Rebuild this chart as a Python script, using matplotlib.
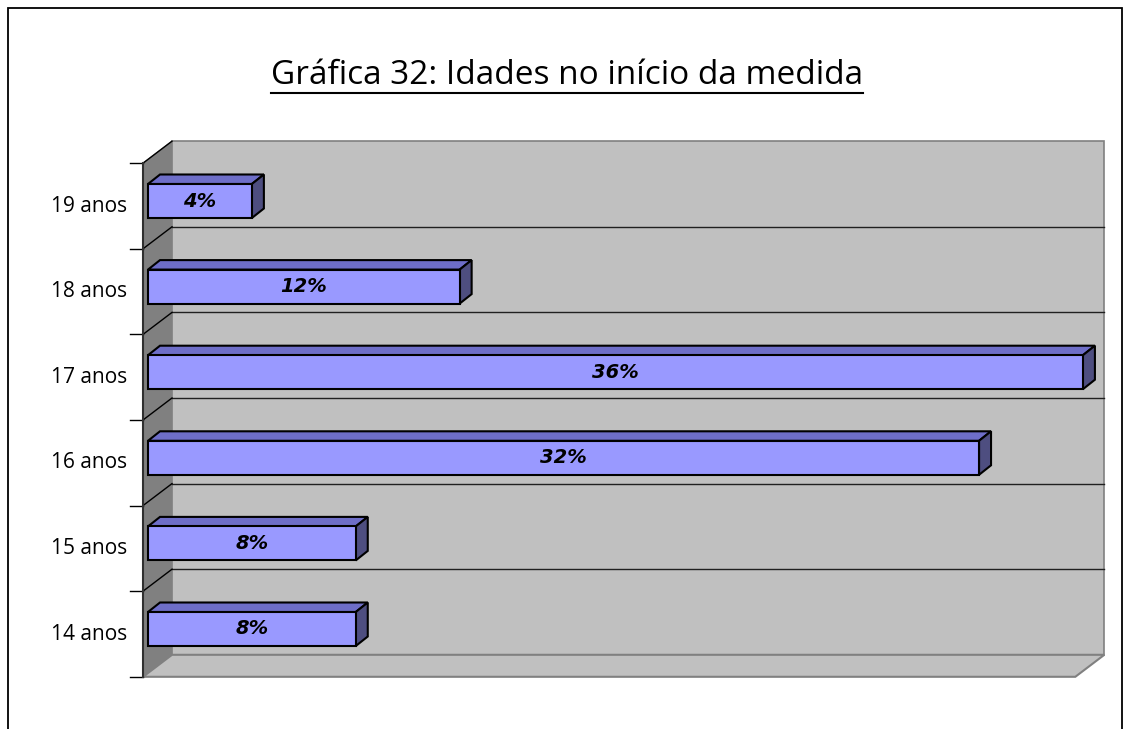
import matplotlib.pyplot as plt
from matplotlib.patches import Polygon, Rectangle
from matplotlib.lines import Line2D

# data
categories = ['14 anos', '15 anos', '16 anos', '17 anos', '18 anos', '19 anos']
values = [8, 8, 32, 36, 12, 4]
title = 'Gráfica 32: Idades no início da medida'

W, H = 1125, 729
fig = plt.figure(figsize=(W / 100, H / 100), dpi=100)
ax = fig.add_axes([0, 0, 1, 1])

# scales: x in percent, y in category index (pixel sizes only used for the 3d look)
PX = 25.97   # px per percent
PY = 85.6    # px per category
X0 = 143     # pixel of value 0 on the front plane
Y0 = 634     # pixel (from top) of first category on the front plane
ax.set_xlim(-X0 / PX, (W - X0) / PX)
ax.set_ylim((Y0 - H) / PY, Y0 / PY)
ax.axis('off')


def dx(p):
    return p / PX


def dy(p):
    return p / PY


n = len(categories)
xmax = 35.9
lo, hi = -0.5, n - 0.5
DX, DY = dx(29), dy(22)          # floor / wall depth
BX, BY = dx(5), dy(5)            # bar position inside the depth
TX, TY = dx(12), dy(9.5)         # bar thickness in depth
bh = dy(17)                      # half height of a bar

# side wall
ax.add_patch(Polygon([(0, lo), (DX, lo + DY), (DX, hi + DY), (0, hi)],
                     closed=True, fc='#808080', ec='#808080', lw=1, zorder=1))
# back wall
ax.add_patch(Rectangle((DX, lo + DY), xmax, hi - lo, fc='#C0C0C0',
                       ec='#808080', lw=1.2, zorder=1))
# floor
ax.add_patch(Polygon([(0, lo), (DX, lo + DY), (xmax + DX, lo + DY), (xmax, lo)],
                     closed=True, fc='#C0C0C0', ec='#808080', lw=1.5, zorder=1))

# gridlines on back wall and side wall, ticks on front axis
for k in range(n + 1):
    yb = lo + k
    if 0 < k < n:
        ax.plot([DX, DX + xmax], [yb + DY, yb + DY], color='#202020', lw=1, zorder=2)
    if k > 0:
        ax.plot([0, DX], [yb, yb + DY], color='black', lw=1, zorder=2)
    ax.plot([dx(-13), 0], [yb, yb], color='black', lw=1, zorder=2)
ax.plot([0, 0], [lo, hi], color='#303030', lw=1.5, zorder=2)

# bars
for k, (cat, v) in enumerate(zip(categories, values)):
    x1, x2 = BX, BX + v
    y1, y2 = k + BY - bh, k + BY + bh
    top = [(x1, y2), (x2, y2), (x2 + TX, y2 + TY), (x1 + TX, y2 + TY)]
    side = [(x2, y1), (x2 + TX, y1 + TY), (x2 + TX, y2 + TY), (x2, y2)]
    ax.add_patch(Polygon(top, closed=True, fc='#6E6EC8', ec='black', lw=1.5, zorder=3))
    ax.add_patch(Polygon(side, closed=True, fc='#4E4E80', ec='black', lw=1.5, zorder=3))
    ax.add_patch(Rectangle((x1, y1), v, y2 - y1, fc='#9999FF', ec='black', lw=1.5, zorder=4))
    ax.text((x1 + x2) / 2, k + BY, f'{v}%', ha='center', va='center',
            fontsize=14, fontweight='bold', fontstyle='italic',
            family='DejaVu Sans', zorder=5)
    ax.text(dx(-16), k, cat, ha='right', va='center', fontsize=15,
            family='Open Sans', color='black')

# title with underline
t = fig.text(567 / W, 1 - 75 / H, title, ha='center', va='center',
             fontsize=24, family='Open Sans')
fig.canvas.draw()
bb = t.get_window_extent()
fig.add_artist(Line2D([bb.x0 / W, bb.x1 / W], [1 - 93 / H, 1 - 93 / H],
                      transform=fig.transFigure, color='black', lw=1.5))

# outer border
fig.add_artist(Rectangle((8 / W, -0.05), (1122 - 8) / W, (H - 8) / H + 0.05,
                         transform=fig.transFigure, fill=False,
                         ec='black', lw=1.3))

fig.savefig('out.png', dpi=100)
